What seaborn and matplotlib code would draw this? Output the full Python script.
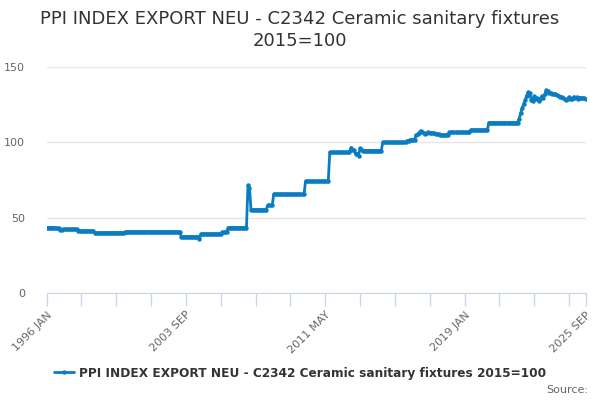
"""PPI export index chart - ceramic sanitary fixtures."""

import numpy as np
import pandas as pd
import matplotlib
matplotlib.use("Agg")
import matplotlib.pyplot as plt
import seaborn as sns

# Stable stretches: index level and how many months it was held (from 1996 JAN)
levels = [43.4, 42.9, 41.5, 42.2, 41.2, 40.0, 40.6, 37.4, 35.8, 39.2,
          40.4, 43.4, 71.4, 70.0, 55.3, 58.1, 65.6, 74.2, 93.3, 96.5,
          94.8, 95.0, 92.3, 91.2, 96.0, 95.0, 94.5, 100.0, 101.0, 101.8,
          104.9, 105.5, 106.5, 107.7, 106.8, 106.2, 105.5, 106.0, 106.9, 106.0,
          106.2, 105.5, 104.9, 106.6, 108.2, 113.0]
months_held = [6, 3, 2, 10, 11, 20, 37, 12, 1, 14,
               4, 13, 1, 1, 11, 4, 21, 16, 14, 1,
               1, 1, 2, 1, 1, 1, 13, 16, 2, 4,
               1, 1, 1, 1, 1, 1, 1, 1, 1, 1,
               3, 3, 6, 14, 12, 20]

# Monthly values from 2022 JAN to 2025 SEP
recent = [115.5, 119.5, 122.5, 125.5, 128.0, 131.0, 133.3, 132.5, 128.4, 127.5,
          130.6, 128.9, 129.5, 127.4, 129.0, 130.6, 129.5, 132.0, 134.6, 134.0,
          133.0, 132.8, 132.3, 132.0, 132.2, 131.7, 130.8, 130.3, 129.8, 129.5,
          128.5, 128.0, 128.8, 130.0, 129.0, 128.5, 130.2, 129.5, 129.8, 128.6,
          129.7, 129.2, 129.5, 129.1, 129.0]

tick_labels = ["1996 JAN", "2003 SEP", "2011 MAY", "2019 JAN", "2025 SEP"]
series_name = "PPI INDEX EXPORT NEU - C2342 Ceramic sanitary fixtures 2015=100"

values = np.concatenate([np.repeat(levels, months_held), recent])
df = pd.DataFrame({"month": np.arange(len(values)), "value": values})

sns.set_style("white")
plt.rcParams["font.family"] = ["DejaVu Sans"]

fig = plt.figure(figsize=(6, 4), dpi=100)
ax = fig.add_axes([0.0775, 0.2675, 0.8988, 0.565])

sns.lineplot(
    x="month", y="value", data=df, ax=ax, color="#0a7cc1", lw=2.0,
    marker="o", markersize=3.2, markeredgewidth=0, label=series_name,
)

n = len(values) - 1
ax.set_xlim(0, n)
ax.set_ylim(0, 150)
ax.set_yticks([0, 50, 100, 150])
ax.grid(axis="y", color="#e6e6e6", lw=1)
ax.set_axisbelow(True)

minor = list(range(0, n, 23)) + [n]
ax.set_xticks(minor)
labels = []
for m in minor:
    if m % 92 == 0:
        labels.append(tick_labels[m // 92])
    elif m == n:
        labels.append(tick_labels[-1])
    else:
        labels.append("")
ax.set_xticklabels(labels, rotation=45, ha="right", rotation_mode="anchor")
ax.tick_params(axis="x", bottom=True, colors="#ccd6eb", length=9, width=1,
               direction="out", labelcolor="#666666", labelsize=8, pad=3)
ax.tick_params(axis="y", left=False, labelcolor="#666666", labelsize=8, pad=12)
ax.set_xlabel("")
ax.set_ylabel("")

for side in ["top", "right", "left"]:
    ax.spines[side].set_visible(False)
ax.spines["bottom"].set_color("#ccd6eb")

fig.text(0.5, 0.925, "PPI INDEX EXPORT NEU - C2342 Ceramic sanitary fixtures\n2015=100",
         ha="center", va="center", fontsize=13, color="#333333", linespacing=1.25)

ax.legend(loc="center", bbox_to_anchor=(0.5, 0.0675), bbox_transform=fig.transFigure,
          frameon=False, prop={"size": 8.7, "weight": "bold"}, handlelength=1.6,
          handletextpad=0.4, labelcolor="#333333")
fig.text(0.98, 0.025, "Source:", ha="right", va="center", fontsize=8, color="#666666")

fig.savefig("out.png", dpi=100)
